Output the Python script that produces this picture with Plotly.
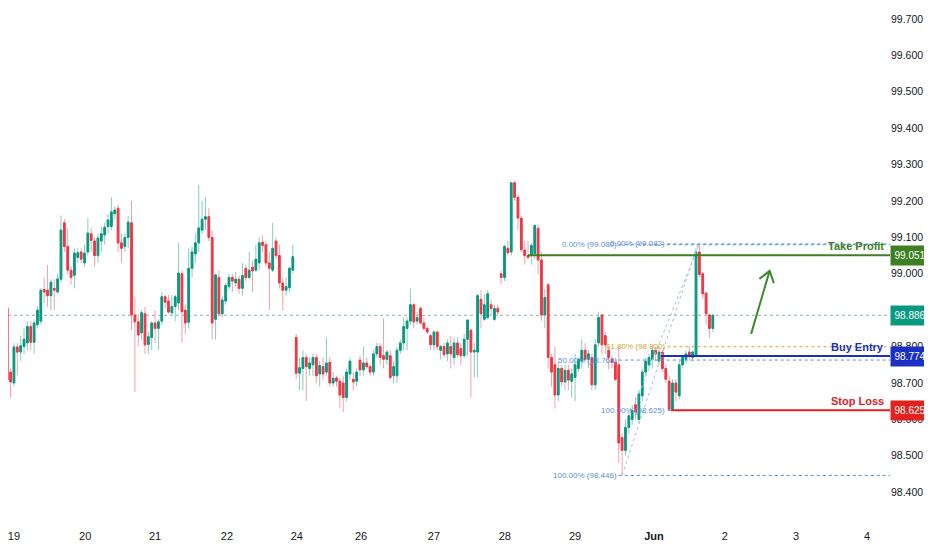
import math
import plotly.graph_objects as go

# hourly candles (open / high / low / close)
opens = [98.722, 98.749, 98.906, 98.730, 98.700, 98.799, 98.785, 98.800, 98.810, 98.855,
         98.812, 98.860, 98.870, 98.957, 98.955, 98.940, 98.960, 98.950, 98.985, 99.140,
         99.075, 99.010, 98.996, 99.045, 99.060, 99.030, 99.060, 99.110, 99.090, 99.050,
         99.090, 99.107, 99.130, 99.130, 99.165, 99.180, 99.085, 99.075, 99.100, 99.140,
         98.887, 98.868, 98.838, 98.890, 98.806, 98.825, 98.865, 98.850, 98.870, 98.937,
         98.925, 98.893, 98.910, 98.920, 99.000, 98.900, 98.867, 99.015, 99.055, 99.085,
         99.120, 99.150, 99.157, 99.100, 98.875, 98.990, 98.890, 98.925, 98.965, 98.990,
         98.975, 98.985, 98.960, 99.015, 98.990, 99.018, 99.010, 99.030, 99.087, 99.080,
         99.030, 99.010, 99.090, 99.050, 98.975, 98.955, 98.962, 99.010, 98.825, 98.727,
         98.740, 98.770, 98.740, 98.750, 98.770, 98.725, 98.745, 98.730, 98.757, 98.700,
         98.714, 98.705, 98.700, 98.660, 98.725, 98.710, 98.705, 98.763, 98.736, 98.755,
         98.745, 98.730, 98.780, 98.800, 98.775, 98.765, 98.775, 98.720, 98.720, 98.790,
         98.810, 98.850, 98.870, 98.915, 98.870, 98.905, 98.865, 98.850, 98.830, 98.805,
         98.840, 98.790, 98.800, 98.780, 98.800, 98.770, 98.810, 98.795, 98.775, 98.820,
         98.845, 98.785, 98.785, 98.930, 98.875, 98.880, 98.915, 98.875, 98.905, 99.000,
         98.990, 99.070, 99.060, 99.250, 99.210, 99.153, 99.065, 99.050, 99.050, 99.055,
         99.125, 99.038, 98.887, 98.970, 98.770, 98.750, 98.667, 98.740, 98.703, 98.735,
         98.705, 98.715, 98.740, 98.760, 98.790, 98.765, 98.770, 98.695, 98.810, 98.887,
         98.830, 98.790, 98.765, 98.757, 98.750, 98.550, 98.515, 98.578, 98.600, 98.640,
         98.600, 98.665, 98.730, 98.750, 98.765, 98.790, 98.760, 98.785, 98.740, 98.705,
         98.628, 98.700, 98.665, 98.750, 98.765, 98.785, 98.770, 98.775, 99.060, 99.000,
         98.947, 98.887, 98.850]
highs = [98.777, 98.912, 98.912, 98.740, 98.810, 98.810, 98.830, 98.850, 98.870, 98.870,
         98.875, 98.910, 98.960, 98.990, 99.024, 98.985, 98.985, 99.000, 99.160, 99.150,
         99.126, 99.020, 99.070, 99.070, 99.070, 99.080, 99.153, 99.125, 99.100, 99.110,
         99.130, 99.140, 99.165, 99.210, 99.185, 99.190, 99.110, 99.110, 99.160, 99.200,
         98.935, 98.890, 98.900, 98.910, 98.840, 98.870, 98.900, 98.875, 98.950, 98.942,
         98.942, 98.942, 98.942, 99.085, 99.010, 98.915, 99.070, 99.075, 99.110, 99.244,
         99.200, 99.210, 99.180, 99.120, 99.000, 99.010, 98.940, 98.975, 99.000, 99.000,
         99.005, 98.995, 99.030, 99.025, 99.060, 99.035, 99.080, 99.100, 99.105, 99.090,
         99.060, 99.140, 99.100, 99.080, 98.990, 98.990, 99.020, 99.080, 98.835, 98.770,
         98.790, 98.780, 98.770, 98.780, 98.780, 98.760, 98.770, 98.826, 98.770, 98.730,
         98.720, 98.715, 98.720, 98.740, 98.770, 98.730, 98.740, 98.775, 98.800, 98.770,
         98.755, 98.790, 98.810, 98.810, 98.878, 98.790, 98.790, 98.760, 98.800, 98.820,
         98.880, 98.880, 98.960, 98.920, 98.895, 98.910, 98.880, 98.855, 98.835, 98.845,
         98.845, 98.805, 98.810, 98.820, 98.830, 98.825, 98.825, 98.810, 98.835, 98.875,
         98.850, 98.810, 98.945, 98.955, 98.945, 98.955, 98.930, 98.915, 98.915, 99.010,
         99.080, 99.090, 99.252, 99.255, 99.220, 99.160, 99.090, 99.090, 99.085, 99.135,
         99.135, 99.060, 98.960, 98.975, 98.780, 98.800, 98.760, 98.750, 98.750, 98.750,
         98.740, 98.780, 98.770, 98.820, 98.810, 98.790, 98.780, 98.820, 98.895, 98.890,
         98.840, 98.800, 98.775, 98.765, 98.800, 98.560, 98.600, 98.620, 98.640, 98.660,
         98.680, 98.740, 98.770, 98.780, 98.800, 98.800, 98.800, 98.790, 98.750, 98.720,
         98.710, 98.710, 98.760, 98.775, 98.790, 98.800, 98.790, 99.070, 99.082, 99.005,
         98.950, 98.890, 98.890]
lows = [98.708, 98.716, 98.689, 98.659, 98.690, 98.720, 98.760, 98.780, 98.790, 98.790,
        98.780, 98.850, 98.860, 98.920, 98.910, 98.900, 98.900, 98.945, 98.975, 99.060,
        98.998, 98.970, 98.960, 99.030, 99.030, 99.020, 99.050, 99.060, 99.020, 99.030,
        99.060, 99.080, 99.110, 99.120, 99.150, 99.060, 99.030, 99.060, 99.070, 98.846,
        98.675, 98.800, 98.820, 98.780, 98.780, 98.790, 98.810, 98.790, 98.860, 98.905,
        98.890, 98.885, 98.870, 98.900, 98.810, 98.835, 98.850, 98.990, 99.030, 99.060,
        99.110, 99.120, 99.090, 98.820, 98.820, 98.880, 98.880, 98.915, 98.955, 98.950,
        98.965, 98.945, 98.940, 98.980, 98.985, 98.950, 99.005, 99.010, 99.060, 99.020,
        98.900, 99.005, 99.040, 98.960, 98.900, 98.940, 98.950, 99.000, 98.710, 98.680,
        98.680, 98.650, 98.720, 98.720, 98.700, 98.690, 98.710, 98.720, 98.690, 98.690,
        98.690, 98.630, 98.620, 98.650, 98.710, 98.680, 98.690, 98.720, 98.720, 98.740,
        98.720, 98.720, 98.770, 98.750, 98.740, 98.750, 98.710, 98.700, 98.700, 98.780,
        98.790, 98.790, 98.860, 98.850, 98.860, 98.860, 98.845, 98.835, 98.790, 98.790,
        98.790, 98.765, 98.770, 98.760, 98.740, 98.750, 98.770, 98.750, 98.770, 98.775,
        98.660, 98.716, 98.716, 98.850, 98.870, 98.875, 98.885, 98.870, 98.885, 98.970,
        98.980, 99.050, 99.050, 99.200, 99.120, 99.060, 99.025, 99.040, 99.025, 99.040,
        98.998, 98.870, 98.850, 98.740, 98.690, 98.630, 98.650, 98.690, 98.680, 98.680,
        98.660, 98.650, 98.730, 98.740, 98.760, 98.740, 98.680, 98.680, 98.800, 98.780,
        98.780, 98.737, 98.740, 98.705, 98.480, 98.446, 98.500, 98.560, 98.585, 98.600,
        98.590, 98.650, 98.720, 98.740, 98.740, 98.760, 98.750, 98.730, 98.700, 98.625,
        98.625, 98.650, 98.655, 98.740, 98.755, 98.760, 98.760, 98.770, 98.990, 98.930,
        98.860, 98.825, 98.840]
closes = [98.758, 98.906, 98.708, 98.703, 98.799, 98.785, 98.802, 98.820, 98.855, 98.812,
          98.865, 98.900, 98.955, 98.950, 98.940, 98.977, 98.955, 98.986, 99.120, 99.075,
          99.010, 98.990, 99.057, 99.058, 99.040, 99.057, 99.112, 99.092, 99.050, 99.098,
          99.110, 99.128, 99.148, 99.170, 99.175, 99.085, 99.070, 99.100, 99.142, 98.887,
          98.868, 98.832, 98.893, 98.805, 98.827, 98.865, 98.850, 98.868, 98.937, 98.922,
          98.895, 98.910, 98.937, 99.002, 98.896, 98.865, 99.015, 99.060, 99.085, 99.126,
          99.150, 99.157, 99.100, 98.865, 98.997, 98.890, 98.928, 98.968, 98.990, 98.980,
          98.985, 98.960, 98.995, 98.990, 99.010, 99.008, 99.040, 99.085, 99.078, 99.030,
          99.015, 99.070, 99.050, 98.975, 98.955, 98.965, 99.015, 99.047, 98.727, 98.742,
          98.770, 98.745, 98.755, 98.770, 98.720, 98.748, 98.725, 98.755, 98.700, 98.713,
          98.705, 98.667, 98.660, 98.730, 98.760, 98.703, 98.730, 98.736, 98.755, 98.745,
          98.730, 98.780, 98.800, 98.770, 98.765, 98.785, 98.715, 98.745, 98.790, 98.810,
          98.855, 98.870, 98.915, 98.868, 98.880, 98.865, 98.850, 98.840, 98.805, 98.840,
          98.800, 98.800, 98.778, 98.810, 98.780, 98.810, 98.778, 98.775, 98.820, 98.873,
          98.785, 98.790, 98.940, 98.890, 98.915, 98.945, 98.905, 98.905, 98.895, 98.990,
          99.075, 99.058, 99.250, 99.210, 99.153, 99.066, 99.050, 99.045, 99.078, 99.133,
          99.038, 98.887, 98.935, 98.770, 98.730, 98.667, 98.740, 98.703, 98.735, 98.708,
          98.725, 98.750, 98.765, 98.790, 98.765, 98.780, 98.695, 98.805, 98.880, 98.805,
          98.805, 98.770, 98.757, 98.710, 98.535, 98.515, 98.578, 98.610, 98.625, 98.620,
          98.670, 98.730, 98.760, 98.770, 98.790, 98.780, 98.785, 98.740, 98.710, 98.628,
          98.700, 98.675, 98.750, 98.770, 98.780, 98.775, 98.785, 99.060, 98.998, 98.945,
          98.890, 98.850, 98.886]

# day labels on the time axis and the candle index they sit at
day_labels = ["19", "20", "21", "22", "24", "26", "27", "28", "29", "<b>Jun</b>", "2", "3", "4"]
day_index = [4.0, 25.2, 46, 67.4, 88.2, 107.3, 129, 150.1, 171, 194.5, 215.6, 236.8, 257.9]

# price axis
price_ticks = [98.4, 98.5, 98.6, 98.7, 98.8, 98.9, 99.0, 99.1, 99.2, 99.3, 99.4, 99.5, 99.6, 99.7]
last_price = 98.886

# trade levels
level_names = ["Take Profit", "Buy Entry", "Stop Loss"]
level_prices = [99.051, 98.774, 98.625]
level_start = [157, 196.5, 199.5]
level_colors = ["#3d7f22", "#1c2fc4", "#e3211f"]

# fib retracements (start index, 100% price, 0% price, levels)
fib_start = [184, 198.5]
fib_low = [98.446, 98.625]
fib_high = [99.080, 99.082]
fib_levels = [[0, 0.5, 1], [0, 0.618, 1]]
fib_from = [(185, 98.446), (188, 98.625)]
fib_to = [(207.5, 99.080), (208, 99.082)]

# projected move arrow (index, price)
arrow_tail = (223.4, 98.835)
arrow_tip = (228.9, 99.008)

UP, DOWN = "#089981", "#f23645"
UP_WICK, DOWN_WICK = "#86cdc2", "#f3a0a8"
FIB_BLUE, FIB_GOLD = "#5b90d2", "#d0a42c"

# the page puts the figure 8px in from the top-left, so size it to fit the window
x_range = [2.232, 264.73]
y_range = [98.3099, 99.7302]
W, H = 924, 542
ML, MR, MT, MB = 0, 42, 0, 25
px_x = (W - ML - MR) / (x_range[1] - x_range[0])
px_y = (H - MT - MB) / (y_range[1] - y_range[0])

x = list(range(len(closes)))

fig = go.Figure()

# wicks (lighter) then solid bodies on top
fig.add_trace(go.Candlestick(
    x=x, open=opens, high=highs, low=lows, close=closes,
    increasing=dict(line=dict(color=UP_WICK, width=1), fillcolor=UP_WICK),
    decreasing=dict(line=dict(color=DOWN_WICK, width=1), fillcolor=DOWN_WICK),
    hoverinfo="skip", showlegend=False))
fig.add_trace(go.Candlestick(
    x=x, open=opens, close=closes,
    high=[max(o, c) for o, c in zip(opens, closes)],
    low=[min(o, c) for o, c in zip(opens, closes)],
    increasing=dict(line=dict(color=UP, width=1), fillcolor=UP),
    decreasing=dict(line=dict(color=DOWN, width=1), fillcolor=DOWN),
    showlegend=False))

shapes = []
annotations = []

# last price dotted line
shapes.append(dict(type="line", xref="paper", x0=0, x1=1, yref="y", y0=last_price, y1=last_price,
                   line=dict(color="#86b8b0", width=1, dash="dot"), layer="below"))

# fib lines + labels
for i in range(len(fib_start)):
    for lvl in fib_levels[i]:
        p = fib_high[i] - (fib_high[i] - fib_low[i]) * lvl
        col = FIB_GOLD if lvl == 0.618 else FIB_BLUE
        shapes.append(dict(type="line", xref="x", x0=fib_start[i], x1=x_range[1], y0=p, y1=p,
                           line=dict(color=col, width=1, dash="dot")))
        annotations.append(dict(x=fib_start[i], y=p, xanchor="right", yanchor="middle",
                                text=f"{lvl * 100:.2f}% ({p:.3f})", showarrow=False,
                                font=dict(size=8, color=col)))
    shapes.append(dict(type="line", x0=fib_from[i][0], y0=fib_from[i][1], x1=fib_to[i][0], y1=fib_to[i][1],
                       line=dict(color="#a9bedf", width=1, dash="dot")))

# trade levels
for name, p, s, col in zip(level_names, level_prices, level_start, level_colors):
    shapes.append(dict(type="line", xref="x", x0=s, x1=x_range[1], y0=p, y1=p,
                       line=dict(color=col, width=2)))
    annotations.append(dict(xref="paper", x=0.9955, y=p, xanchor="right", yanchor="bottom", yshift=1,
                            text=f"<b>{name}</b>", showarrow=False, font=dict(size=11, color=col)))

# price boxes on the axis
for p, col in zip(level_prices + [last_price], level_colors + [UP]):
    annotations.append(dict(xref="paper", x=1.0, y=p, xanchor="left", yanchor="middle",
                            text=f"{p:.3f}", showarrow=False, bgcolor=col, borderpad=2,
                            width=34, height=15, font=dict(size=10, color="white")))

# arrow with open head
tx, ty = arrow_tail[0] * px_x, arrow_tail[1] * px_y
hx, hy = arrow_tip[0] * px_x, arrow_tip[1] * px_y
ang = math.atan2(ty - hy, tx - hx)
wing_x, wing_y = [], []
for d in (0.62, -0.62):
    wing_x.append((hx + 13 * math.cos(ang + d)) / px_x)
    wing_y.append((hy + 13 * math.sin(ang + d)) / px_y)
fig.add_trace(go.Scatter(
    x=[arrow_tail[0], arrow_tip[0], None, wing_x[0], arrow_tip[0], wing_x[1]],
    y=[arrow_tail[1], arrow_tip[1], None, wing_y[0], arrow_tip[1], wing_y[1]],
    mode="lines", line=dict(color="#3d8a2a", width=2), hoverinfo="skip", showlegend=False))

fig.update_layout(
    width=W, height=H,
    margin=dict(l=ML, r=MR, t=MT, b=MB),
    paper_bgcolor="white", plot_bgcolor="white",
    font=dict(family="Liberation Sans", size=11, color="#131722"),
    showlegend=False,
    shapes=shapes, annotations=annotations,
    xaxis=dict(range=x_range, tickvals=day_index, ticktext=day_labels, showgrid=False,
               zeroline=False, showline=False, ticks="", rangeslider=dict(visible=False),
               ticklabeloverflow="allow", ticklabelstandoff=3,
               tickfont=dict(size=11, color="#131722")),
    yaxis=dict(range=y_range, side="right", tickvals=price_ticks, tickformat=".3f",
               showgrid=False, zeroline=False, showline=False, ticks="", ticklabelstandoff=0,
               tickfont=dict(size=10.5, color="#131722")),
)

fig.write_html("out.html")
